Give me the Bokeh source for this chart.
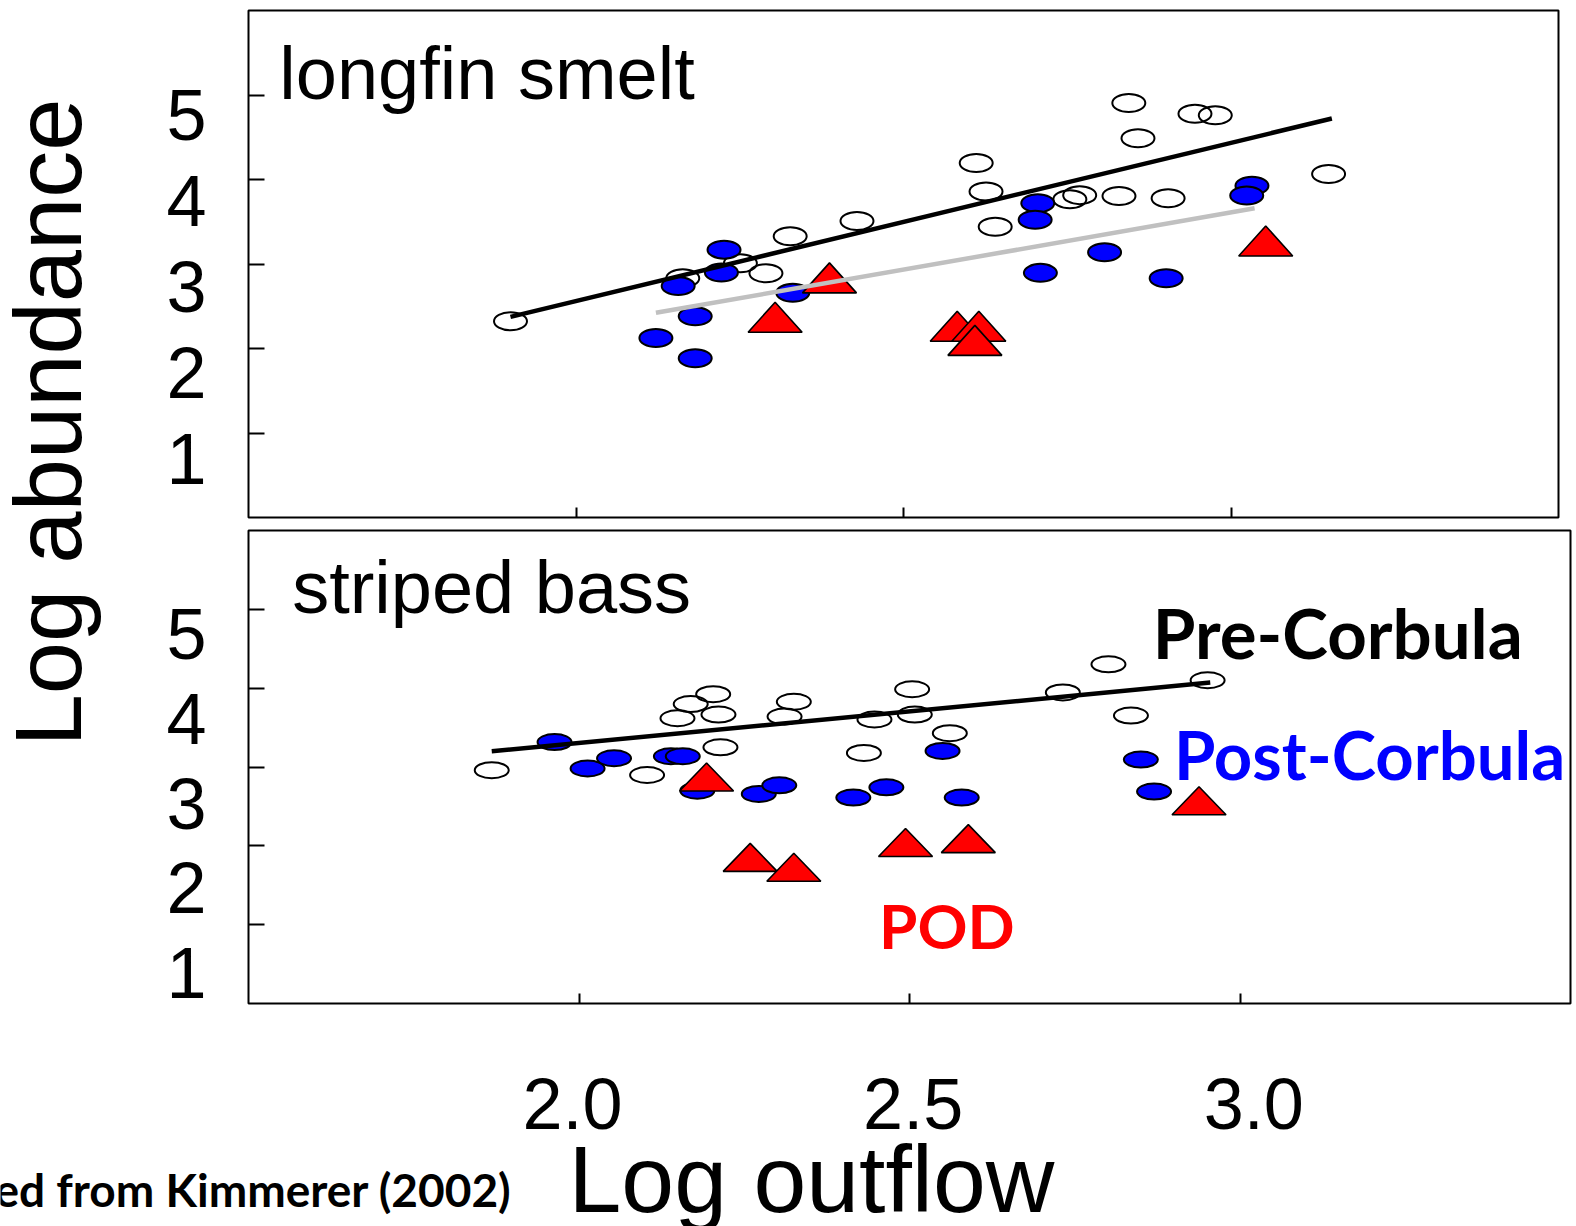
import math
from bokeh.plotting import figure
from bokeh.layouts import column, row
from bokeh.models import Range1d, LinearAxis, FixedTicker, Label
from bokeh.embed import file_html
from bokeh.resources import INLINE

# ---------------- data ----------------
x_ticks = [2.0, 2.5, 3.0]
x_tick_labels = ["2.0", "2.5", "3.0"]
y_ticks = [1, 2, 3, 4, 5]
y_tick_labels = ["1", "2", "3", "4", "5"]

# longfin smelt
ls_pre_x = [1.900, 2.163, 2.251, 2.290, 2.327, 2.429, 2.611, 2.626, 2.640, 2.754,
            2.769, 2.829, 2.844, 2.858, 2.904, 2.945, 2.976, 3.149]
ls_pre_y = [2.322, 2.831, 3.010, 2.891, 3.329, 3.508, 4.196, 3.858, 3.440, 3.766,
            3.815, 3.806, 4.905, 4.487, 3.778, 4.777, 4.761, 4.065]
ls_post_x = [2.226, 2.222, 2.156, 2.331, 2.182, 2.122, 2.182,
             2.705, 2.701, 2.807, 2.709, 2.901, 3.032, 3.024]
ls_post_y = [3.170, 2.899, 2.740, 2.661, 2.382, 2.123, 1.885,
             3.719, 3.524, 3.138, 2.895, 2.831, 3.926, 3.810]
ls_pod_x = [2.387, 2.304, 3.053, 2.582, 2.615, 2.609]
ls_pod_y = [2.836, 2.370, 3.273, 2.263, 2.263, 2.096]
ls_pre_fit_x = [1.900, 3.154]
ls_pre_fit_y = [2.374, 4.722]
ls_post_fit_x = [2.122, 3.036]
ls_post_fit_y = [2.422, 3.659]

# striped bass
sb_pre_x = [1.868, 2.103, 2.149, 2.169, 2.203, 2.211, 2.214, 2.311, 2.325, 2.431,
            2.447, 2.504, 2.508, 2.561, 2.732, 2.801, 2.835, 2.951]
sb_pre_y = [2.960, 2.898, 3.618, 3.798, 3.924, 3.665, 3.249, 3.640, 3.828, 3.179,
            3.602, 3.987, 3.665, 3.429, 3.946, 4.302, 3.652, 4.100]
sb_post_x = [1.963, 2.013, 2.053, 2.139, 2.157, 2.179, 2.272, 2.303, 2.415, 2.465,
             2.550, 2.579, 2.850, 2.870]
sb_post_y = [3.316, 2.981, 3.111, 3.136, 3.136, 2.700, 2.659, 2.767, 2.612, 2.742,
             3.204, 2.612, 3.094, 2.688]
sb_pod_x = [2.193, 2.259, 2.325, 2.494, 2.589, 2.938]
sb_pod_y = [2.873, 1.854, 1.729, 2.042, 2.091, 2.571]
sb_pre_fit_x = [1.868, 2.955]
sb_pre_fit_y = [3.199, 4.071]

# ---------------- layout ----------------
W, H = 1576, 1226
LW = 120            # left strip for the y title
F1H, F2H = 523, 483
BH = H - F1H - F2H  # bottom strip: x tick labels, x title, credit
BT = 134            # bottom strip: height of the axis panel above its frame

X_RANGE = (1.5, 3.5)
Y_RANGE = (0, 6)

SANS = "Liberation Sans"
HAND = "Lato"
BLUE = "#0000FF"
RED = "#FF0000"
GRAY = "#C0C0C0"


def tick_axis(ticks, length, **kw):
    return LinearAxis(ticker=FixedTicker(ticks=ticks), major_tick_in=length, major_tick_out=0,
                      major_tick_line_color="black", major_tick_line_width=2,
                      minor_tick_line_color=None, axis_line_color=None,
                      major_label_text_font_size="0px", major_label_text_color=None,
                      major_label_standoff=0, **kw)


def label_axis(ticks, labels, standoff, size, **kw):
    return LinearAxis(ticker=FixedTicker(ticks=ticks),
                      major_label_overrides={t: l for t, l in zip(ticks, labels)},
                      major_tick_in=0, major_tick_out=0, major_tick_line_color=None,
                      minor_tick_line_color=None, axis_line_color=None,
                      major_label_standoff=standoff, major_label_text_font=SANS,
                      major_label_text_font_size=size, major_label_text_color="black", **kw)


def make_panel(height, mb_top, mb_right, mb_bottom, ylab_range):
    p = figure(width=W - LW, height=height, x_range=Range1d(*X_RANGE), y_range=Range1d(*Y_RANGE),
               x_axis_type=None, y_axis_type=None, output_backend="svg", toolbar_location=None,
               min_border_left=248 - LW, min_border_right=mb_right, min_border_top=mb_top,
               min_border_bottom=mb_bottom, outline_line_color="black", outline_line_width=2,
               background_fill_color="white", border_fill_color="white", frame_align=False)
    p.extra_y_ranges = {"lab": Range1d(*ylab_range)}
    p.add_layout(tick_axis(x_ticks, 10), "below")
    p.add_layout(tick_axis(y_ticks, 16), "left")
    p.add_layout(label_axis(y_ticks, y_tick_labels, 42, "72px", y_range_name="lab"), "left")
    return p


def draw_marks(p, pre_x, pre_y, post_x, post_y, pod_x, pod_y, ell, tri):
    fw = p.width - p.min_border_left - p.min_border_right
    fh = p.height - p.min_border_top - p.min_border_bottom
    ppx = fw / (X_RANGE[1] - X_RANGE[0])
    ppy = fh / (Y_RANGE[1] - Y_RANGE[0])
    p.ellipse(pre_x, pre_y, width=ell[0], height=ell[1], width_units="screen",
              height_units="screen", fill_color=None, line_color="black", line_width=2)
    p.ellipse(post_x, post_y, width=ell[0], height=ell[1], width_units="screen",
              height_units="screen", fill_color=BLUE, line_color="black", line_width=2)
    dx = tri[0] / 2 / ppx
    dy = tri[1] / 2 / ppy
    xs = [[x - dx, x + dx, x] for x in pod_x]
    ys = [[y - dy, y - dy, y + dy] for y in pod_y]
    p.patches(xs, ys, fill_color=RED, line_color="black", line_width=1.6)


def text(p, x, y, s, font, size, color="black", bold=False, **kw):
    p.add_layout(Label(x=x, y=y, text=s, text_font=font, text_font_size=size,
                       text_font_style="bold" if bold else "normal",
                       text_baseline="alphabetic", text_color=color, **kw))


# ---- top panel: longfin smelt ----
p1 = make_panel(F1H, 10, 18, 6, (0.316, 6.218))
draw_marks(p1, ls_pre_x, ls_pre_y, ls_post_x, ls_post_y, ls_pod_x, ls_pod_y, (33, 18), (54, 30))
p1.line(ls_post_fit_x, ls_post_fit_y, line_color=GRAY, line_width=4.5)
p1.line(ls_pre_fit_x, ls_pre_fit_y, line_color="black", line_width=4.5)
text(p1, 1.547, 5.25, "longfin smelt", SANS, "74px")

# ---- bottom panel: striped bass ----
p2 = make_panel(F2H, 7, 6, 3, (0.645, 6.216))
draw_marks(p2, sb_pre_x, sb_pre_y, sb_post_x, sb_post_y, sb_pod_x, sb_pod_y, (34, 16), (54, 28))
p2.line(sb_pre_fit_x, sb_pre_fit_y, line_color="black", line_width=4.5)
text(p2, 1.566, 5.28, "striped bass", SANS, "74px")
text(p2, 2.868, 4.70, "Pre-Corbula", HAND, "69px", bold=True)
text(p2, 2.900, 3.17, "Post-Corbula", HAND, "67px", color=BLUE, bold=True)
text(p2, 2.454, 0.99, "POD", HAND, "62px", color=RED, bold=True)

# ---- left strip: y title ----
pl = figure(width=LW, height=F1H + F2H, x_range=Range1d(0, LW), y_range=Range1d(0, F1H + F2H),
            x_axis_type=None, y_axis_type=None, output_backend="svg", toolbar_location=None,
            min_border=0, outline_line_color=None, border_fill_color="white",
            background_fill_color="white", frame_align=False)
text(pl, 48, F1H + F2H - 422, "Log abundance", SANS, "94px", angle=math.pi / 2,
     text_align="center")

# ---- bottom strip: x tick labels, x title and credit ----
pb = figure(width=W, height=BH, x_range=Range1d(0, W), y_range=Range1d(0, BH - BT),
            x_axis_type=None, y_axis_type=None, output_backend="svg", toolbar_location=None,
            min_border_left=0, min_border_right=0, min_border_bottom=0, min_border_top=BT,
            outline_line_color=None, border_fill_color="white", background_fill_color="white",
            frame_align=False)
pb.extra_x_ranges = {"lab": Range1d(1.1606, 3.4735)}
pb.add_layout(label_axis(x_ticks, x_tick_labels, 12, "72px", x_range_name="lab"), "above")
text(pb, 568, 48, "Log outflow", SANS, "95px")
text(pb, -6, 37, "ed from Kimmerer (2002)", HAND, "46px", bold=True)

layout = column(row(pl, column(p1, p2, spacing=0), spacing=0), pb, spacing=0)
open("out.html", "w").write(file_html(layout, INLINE))
